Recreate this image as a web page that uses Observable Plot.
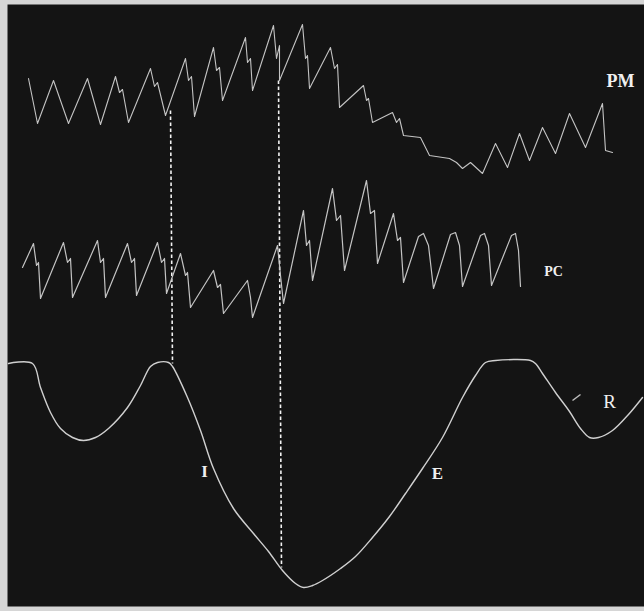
<!DOCTYPE html>
<html>
<head>
<meta charset="utf-8">
<script src="https://cdn.jsdelivr.net/npm/d3@7"></script>
<script src="https://cdn.jsdelivr.net/npm/@observablehq/plot@0.6"></script>
<style>
  html, body { margin: 0; padding: 0; background: #d6d6d6; }
  #chart svg { display: block; }
</style>
</head>
<body>
<div id="chart"></div>
<script>
// Tracings: [time position, deflection] (picture units, y grows downward)
const pmTrace = [
  [28,78],[37,123],[53,80],[68,123],[87,78],[100,124],[115,76],[119,92],[122,89],[128,122],
  [150,68],[154,86],[157,82],[165,115],[185,58],[188,80],[191,76],[194,116],
  [213,47],[216,70],[219,67],[222,100],[245,37],[247,62],[250,58],[252,90],
  [273,25],[276,58],[279,45],[279,80],[302,24],[305,58],[307,55],[309,88],
  [330,47],[334,68],[337,64],[339,107],[363,85],[366,100],[368,98],[372,122],
  [392,112],[396,122],[399,118],[403,135],[420,137],[429,155],[449,158],[456,162],
  [462,168],[470,162],[482,173],[495,143],[507,167],[519,133],[529,160],
  [542,127],[555,153],[569,113],[585,147],[602,103],[605,150],[612,152]
];

const pcTrace = [
  [22,267],[33,243],[36,265],[38,262],[40,298],[63,242],[67,262],[70,258],[72,297],
  [97,240],[100,262],[103,258],[105,297],[127,243],[131,262],[134,258],[136,295],
  [157,242],[161,262],[164,258],[166,293],[180,253],[185,275],[187,272],[190,307],
  [213,270],[217,287],[220,284],[223,313],[247,280],[250,297],[252,317],
  [277,245],[280,275],[283,303],[303,210],[306,245],[309,240],[312,280],
  [332,188],[336,220],[340,215],[344,270],[366,180],[370,213],[374,210],[377,263],
  [393,213],[397,240],[400,237],[403,282],[418,236],[423,233],[428,245],[433,288],
  [450,234],[455,232],[459,245],[462,286],[480,235],[484,233],[488,245],[491,285],
  [511,235],[515,233],[518,250],[520,286]
];

const respTrace = [
  [8,363],[32,363],[40,387],[50,412],[60,428],[72,437],[83,440],[95,437],[108,428],
  [127,407],[140,385],[150,366],[157,362],[168,362],[172,366],[187,397],[200,430],
  [213,468],[233,508],[253,533],[268,551],[282,570],[295,583],[303,587],[312,585],
  [322,580],[340,568],[355,556],[372,537],[389,516],[405,493],[422,468],[442,437],
  [462,397],[475,375],[485,362],[495,360],[530,360],[535,363],[542,373],[555,392],
  [569,411],[580,428],[589,437],[598,437],[612,430],[628,414],[642,397]
];

// Vertical dotted reference lines joining the three tracings
const markers = [
  {x1:170, y1:110, x2:172, y2:363},
  {x1:278, y1:80,  x2:281, y2:567}
];

// small stroke beside R
const tick = [{x1:572, y1:400, x2:580, y2:394}];

const traceLabels = [
  {x:620, y:81,  text:"PM"},
  {x:553, y:271, text:"PC"}
];
const phaseLabels = [
  {x:609, y:401, text:"R"},
  {x:204, y:471, text:"I"},
  {x:437, y:473, text:"E"}
];

const serif = "'Liberation Serif', 'DejaVu Serif', serif";
const ink = "#c4c4c4";

const chart = Plot.plot({
  width: 644,
  height: 611,
  margin: 0,
  style: {background: "#d6d6d6"},
  x: {domain: [0, 644], axis: null},
  y: {domain: [611, 0], axis: null},
  marks: [
    Plot.frame({fill: "#141414", stroke: null, insetLeft: 7, insetTop: 4, insetBottom: 5}),
    Plot.link(markers, {x1:"x1", y1:"y1", x2:"x2", y2:"y2", stroke:"#f2f2f2", strokeWidth:1.6, strokeDasharray:"3.5,2.5"}),
    Plot.line(pmTrace, {x: d => d[0], y: d => d[1], stroke: ink, strokeWidth: 1.1, strokeLinejoin: "round"}),
    Plot.line(pcTrace, {x: d => d[0], y: d => d[1], stroke: ink, strokeWidth: 1.2, strokeLinejoin: "round"}),
    Plot.line(respTrace, {x: d => d[0], y: d => d[1], stroke: "#d0d0d0", strokeWidth: 1.4, curve: "catmull-rom"}),
    Plot.link(tick, {x1:"x1", y1:"y1", x2:"x2", y2:"y2", stroke:"#bdbdbd", strokeWidth:1.5}),
    Plot.text(traceLabels.slice(0,1), {x:"x", y:"y", text:"text", fontSize:18, fontWeight:"bold", fontFamily: serif, fill:"#f0f0f0"}),
    Plot.text(traceLabels.slice(1), {x:"x", y:"y", text:"text", fontSize:14, fontWeight:"bold", fontFamily: serif, fill:"#f0f0f0"}),
    Plot.text(phaseLabels.slice(0,1), {x:"x", y:"y", text:"text", fontSize:19, fontFamily: serif, fill:"#f0f0f0"}),
    Plot.text(phaseLabels.slice(1), {x:"x", y:"y", text:"text", fontSize:17, fontWeight:"bold", fontFamily: serif, fill:"#f0f0f0"})
  ]
});
document.getElementById("chart").append(chart);
</script>
</body>
</html>
